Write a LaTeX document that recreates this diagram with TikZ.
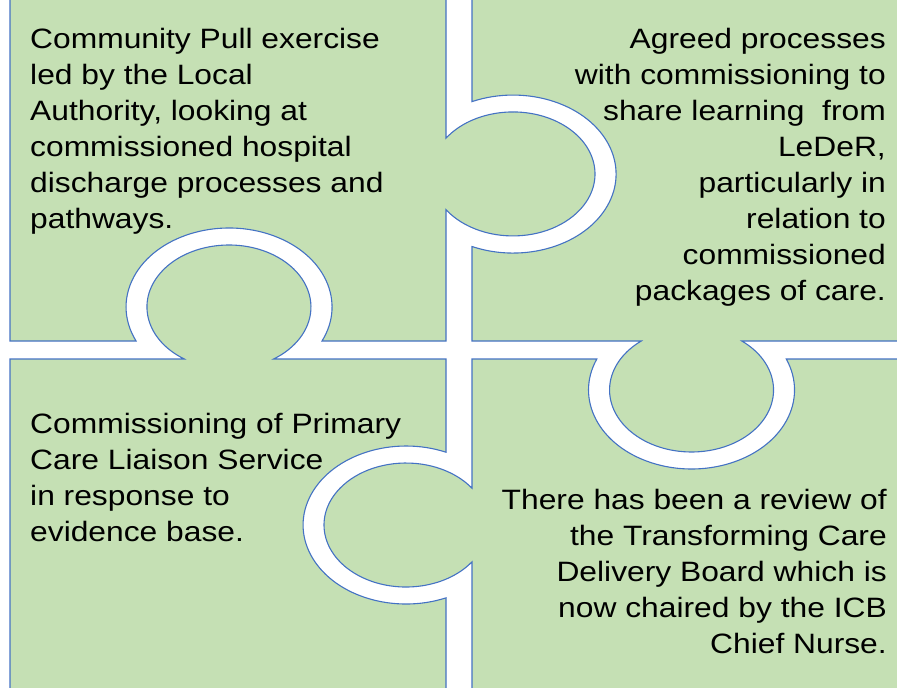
\documentclass[tikz,border=0pt]{standalone}
\usepackage{fontspec}
\setmainfont{Liberation Sans}
\newfontfamily\piecefont[FakeStretch=1.135]{Liberation Sans}
\definecolor{piecegreen}{HTML}{C5E0B4}
\definecolor{pieceblue}{HTML}{4472C4}
\begin{document}
\begin{tikzpicture}[x=1pt,y=-1pt,
  piece/.style={fill=piecegreen,draw=pieceblue,line width=1.1pt},
  piecetext/.style={inner sep=0pt,text=black,font=\piecefont\fontsize{28}{36}\selectfont}]
\useasboundingbox (0,0) rectangle (897,688);
\begin{scope}
\clip (0,0) rectangle (897,688);
% top-left piece: tab to the right, socket below
\draw[piece] (10,-10) -- (446,-10) -- (446,138.2)
  arc[start angle=215.2,end angle=504.8,x radius=82,y radius=62]
  -- (446,341) -- (322,341)
  arc[start angle=25.5,end angle=-205.5,x radius=103,y radius=79]
  -- (10,341) -- cycle;
% top-right piece: tab below, socket on the left
\draw[piece] (472,-10) -- (910,-10) -- (910,341) -- (741.8,341)
  arc[start angle=-52.2,end angle=232.2,x radius=82,y radius=62]
  -- (472,341) -- (472,246.5)
  arc[start angle=113.5,end angle=-113.5,x radius=103,y radius=79]
  -- cycle;
% bottom-left piece: tab above, socket on the right
\draw[piece] (10,359) -- (184.3,359)
  arc[start angle=123,end angle=417,x radius=82,y radius=62]
  -- (446,359) -- (446,452.2)
  arc[start angle=-67.2,end angle=-292.8,x radius=103,y radius=79]
  -- (446,700) -- (10,700) -- cycle;
% bottom-right piece: socket above, tab to the left
\draw[piece] (472,359) -- (596.8,359)
  arc[start angle=203.1,end angle=-23.1,x radius=103,y radius=79]
  -- (910,359) -- (910,700) -- (472,700) -- (472,561.8)
  arc[start angle=36.4,end angle=323.6,x radius=82,y radius=62]
  -- cycle;
\end{scope}
% texts
\node[piecetext,anchor=north west,align=left] (tl) at (30,26)
  {\rule{0pt}{22pt}Community Pull exercise\\led by the Local\\Authority, looking at\\commissioned hospital\\discharge processes and\\pathways.};
\node[piecetext,anchor=north east,align=right] (tr) at (886,26)
  {\rule{0pt}{22pt}Agreed processes\\with commissioning to\\share learning~ from\\LeDeR,\\particularly in\\relation to\\commissioned\\packages of care.};
\node[piecetext,anchor=north west,align=left] (bl) at (30,411)
  {\rule{0pt}{22pt}Commissioning of Primary\\Care Liaison Service\\in response to\\evidence base.};
\node[piecetext,anchor=north east,align=right] (br) at (887,487)
  {\rule{0pt}{22pt}There has been a review of\\the Transforming Care\\Delivery Board which is\\now chaired by the ICB\\Chief Nurse.};
\end{tikzpicture}
\end{document}
